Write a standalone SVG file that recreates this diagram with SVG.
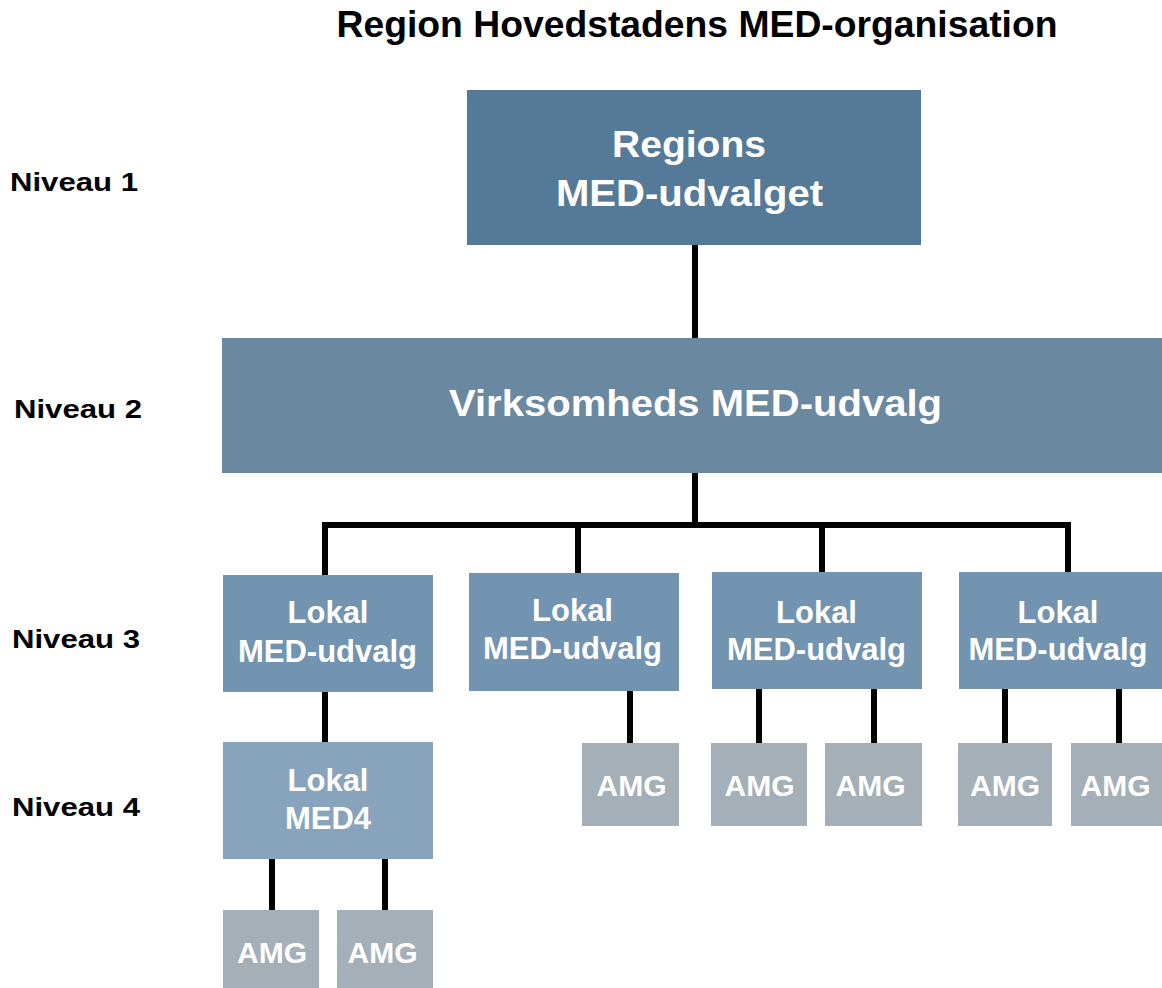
<svg xmlns="http://www.w3.org/2000/svg" width="1162" height="988" viewBox="0 0 1162 988">
<style>
text{font-family:"Liberation Sans",Arial,sans-serif;font-weight:bold}
.lbl{font-size:25px;fill:#000}
.w{fill:#fff;text-anchor:middle}
.big{font-size:36px}
.mid{font-size:31px}
.sm{font-size:30px}
.c{stroke:#000;stroke-width:6;fill:none;stroke-linejoin:miter}
.n1{fill:#557a98}
.n2{fill:#6a88a0}
.n3{fill:#7294b0}
.n4{fill:#87a4bc}
.amg{fill:#a4afb8}
</style>
<rect width="1162" height="988" fill="#fff"/>
<text x="697" y="37" font-size="37" text-anchor="middle" textLength="721" lengthAdjust="spacingAndGlyphs">Region Hovedstadens MED-organisation</text>
<g id="labels">
<text class="lbl" x="10" y="191" textLength="128" lengthAdjust="spacingAndGlyphs">Niveau 1</text>
<text class="lbl" x="14" y="418" textLength="128" lengthAdjust="spacingAndGlyphs">Niveau 2</text>
<text class="lbl" x="12" y="648" textLength="128" lengthAdjust="spacingAndGlyphs">Niveau 3</text>
<text class="lbl" x="12" y="816" textLength="128" lengthAdjust="spacingAndGlyphs">Niveau 4</text>
</g>
<g id="connectors">
<path class="c" d="M695 245V338M695 473V525"/>
<path class="c" d="M325 575V525H1068V572"/>
<path class="c" d="M578 525V573M822 525V572"/>
<path class="c" d="M325 692V742M272 859V910M385 859V910M630 691V743M759 689V743M874 689V743M1005 689V743M1119 689V743"/>
</g>
<g id="n1"><rect class="n1" x="467" y="90" width="454" height="155"/><text class="w big" x="689" y="157" textLength="154" lengthAdjust="spacingAndGlyphs">Regions</text><text class="w big" x="689.5" y="206" textLength="267" lengthAdjust="spacingAndGlyphs">MED-udvalget</text></g>
<g id="n2"><rect class="n2" x="222" y="338" width="940" height="135"/><text class="w big" x="695.5" y="416" textLength="493" lengthAdjust="spacingAndGlyphs">Virksomheds MED-udvalg</text></g>
<g id="n3a"><rect class="n3" x="223" y="575" width="210" height="117"/><text class="w mid" x="328" y="623">Lokal</text><text class="w mid" x="327.5" y="662">MED-udvalg</text></g>
<g id="n3b"><rect class="n3" x="469" y="573" width="210" height="118"/><text class="w mid" x="572.5" y="621">Lokal</text><text class="w mid" x="572.5" y="659">MED-udvalg</text></g>
<g id="n3c"><rect class="n3" x="712" y="572" width="210" height="117"/><text class="w mid" x="816.5" y="623">Lokal</text><text class="w mid" x="816.5" y="660">MED-udvalg</text></g>
<g id="n3d"><rect class="n3" x="959" y="572" width="203" height="117"/><text class="w mid" x="1058" y="623">Lokal</text><text class="w mid" x="1058" y="660">MED-udvalg</text></g>
<g id="n4"><rect class="n4" x="223" y="742" width="210" height="117"/><text class="w mid" x="328" y="791">Lokal</text><text class="w mid" x="328" y="829">MED4</text></g>
<g id="amg1"><rect class="amg" x="223" y="910" width="96" height="78"/><text class="w sm" x="272" y="963">AMG</text></g>
<g id="amg2"><rect class="amg" x="337" y="910" width="96" height="78"/><text class="w sm" x="382.5" y="963">AMG</text></g>
<g id="amg3"><rect class="amg" x="582" y="743" width="97" height="83"/><text class="w sm" x="631.5" y="796">AMG</text></g>
<g id="amg4"><rect class="amg" x="711" y="743" width="96" height="83"/><text class="w sm" x="759.5" y="796">AMG</text></g>
<g id="amg5"><rect class="amg" x="825" y="743" width="97" height="83"/><text class="w sm" x="870.5" y="796">AMG</text></g>
<g id="amg6"><rect class="amg" x="958" y="743" width="94" height="83"/><text class="w sm" x="1005" y="796">AMG</text></g>
<g id="amg7"><rect class="amg" x="1071" y="743" width="91" height="83"/><text class="w sm" x="1115.5" y="796">AMG</text></g>
</svg>
